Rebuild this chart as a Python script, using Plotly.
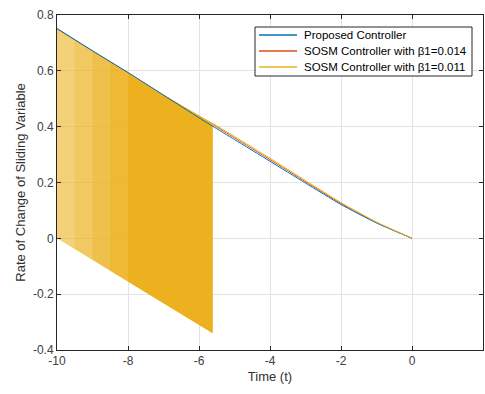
import plotly.graph_objects as go

# ---- data ----
t_blue = [-10, -9, -8, -7, -6, -5.62, -5, -4, -3, -2, -1, 0]
v_blue = [0.752, 0.672, 0.594, 0.513, 0.432, 0.402, 0.354, 0.276, 0.198, 0.121, 0.055, 0.0]

t_orange = [-10, -9, -8, -7, -6, -5.62, -5, -4, -3, -2, -1, 0]
v_orange = [0.750, 0.671, 0.593, 0.513, 0.436, 0.408, 0.360, 0.282, 0.203, 0.125, 0.057, 0.0]

# SOSM beta1=0.011: chattering band (upper / lower envelope) then smooth tail
t_band = [-10, -9.5, -9, -8.5, -8, -7, -6, -5.62]
v_band_upper = [0.750, 0.711, 0.671, 0.632, 0.593, 0.513, 0.440, 0.412]
v_band_lower = [0.000, -0.038, -0.077, -0.116, -0.155, -0.233, -0.310, -0.339]

t_yellow = [-5.62, -5, -4, -3, -2, -1, 0]
v_yellow = [0.412, 0.365, 0.287, 0.207, 0.128, 0.058, 0.0]

names = ["Proposed Controller",
         "SOSM Controller with \u03b21=0.014",
         "SOSM Controller with \u03b21=0.011"]

x_ticks = [-10, -8, -6, -4, -2, 0, 2]
y_ticks = [-0.4, -0.2, 0, 0.2, 0.4, 0.6, 0.8]

# ---- styles ----
BLUE = "#0072BD"
ORANGE = "#D95319"
YELLOW = "#EDB120"
colors = [BLUE, ORANGE, YELLOW]
# stacked layers of the chatter band, starting at successive band points
layer_alpha = [0.6, 0.25, 0.33, 0.5, 1.0]

W, H = 485, 394
ML, MR, MT, MB = 57, 2, 15, 44
PW, PH = W - ML - MR, H - MT - MB


def px_x(p):
    return (p - ML) / PW


def px_y(p):
    return 1 - (p - MT) / PH


fig = go.Figure()

fig.add_trace(go.Scatter(x=t_orange, y=v_orange, mode="lines", name=names[1],
                         line=dict(color=ORANGE, width=1, shape="spline", smoothing=0.5),
                         showlegend=False))

for k, a in enumerate(layer_alpha):
    xs = t_band[k:] + t_band[k:][::-1] + [t_band[k]]
    ys = v_band_upper[k:] + v_band_lower[k:][::-1] + [v_band_upper[k]]
    fig.add_trace(go.Scatter(x=xs, y=ys, mode="lines", fill="toself",
                             fillcolor=f"rgba(237,177,32,{a})",
                             line=dict(width=0, color=f"rgba(237,177,32,{a})"),
                             showlegend=False, hoverinfo="skip"))

fig.add_trace(go.Scatter(x=t_blue, y=v_blue, mode="lines", name=names[0],
                         line=dict(color=BLUE, width=1, shape="spline", smoothing=0.5),
                         showlegend=False))

fig.add_trace(go.Scatter(x=t_yellow, y=v_yellow, mode="lines", name=names[2],
                         line=dict(color=YELLOW, width=1, shape="spline", smoothing=0.5),
                         showlegend=False))

# ---- legend box (drawn as shapes + text, MATLAB style) ----
shapes = [dict(type="rect", xref="paper", yref="paper",
               x0=px_x(255), x1=px_x(472), y0=px_y(76), y1=px_y(27),
               fillcolor="white", line=dict(color="#262626", width=1), layer="above")]
annotations = []
rows = [35, 51, 67]
for name, col, ry in zip(names, colors, rows):
    shapes.append(dict(type="line", xref="paper", yref="paper",
                       x0=px_x(259), x1=px_x(297), y0=px_y(ry), y1=px_y(ry),
                       line=dict(color=col, width=1.5), layer="above"))
    annotations.append(dict(xref="paper", yref="paper", x=px_x(302), y=px_y(ry),
                            xanchor="left", yanchor="middle", showarrow=False,
                            text=name, font=dict(size=11.5, color="#000000")))

axis_common = dict(
    showgrid=True, gridcolor="#e3e3e3", gridwidth=1,
    showline=True, linecolor="#262626", linewidth=1, mirror="ticks",
    ticks="inside", ticklen=4, tickcolor="#262626",
    tickfont=dict(family="Liberation Sans, Arial", size=12, color="#404040"),
    zeroline=False, automargin=False,
)

fig.update_layout(
    width=W, height=H,
    margin=dict(l=ML, r=MR, t=MT, b=MB),
    paper_bgcolor="white", plot_bgcolor="white",
    font=dict(family="Liberation Sans, Arial", size=12, color="#262626"),
    xaxis=dict(range=[-10, 2], tickvals=x_ticks,
               ticktext=[str(v) for v in x_ticks],
               title=dict(text="Time (t)", font=dict(size=13, color="#303030"), standoff=4),
               **axis_common),
    yaxis=dict(range=[-0.4, 0.8], tickvals=y_ticks,
               ticktext=["-0.4", "-0.2", "0", "0.2", "0.4", "0.6", "0.8"],
               title=dict(text="Rate of Change of Sliding Variable",
                          font=dict(size=13, color="#303030"), standoff=4),
               **axis_common),
    shapes=shapes,
    annotations=annotations,
    showlegend=False,
)

fig.write_html("out.html", config={"displayModeBar": False},
               post_script="document.body.style.margin='0';document.body.style.overflow='hidden';")
